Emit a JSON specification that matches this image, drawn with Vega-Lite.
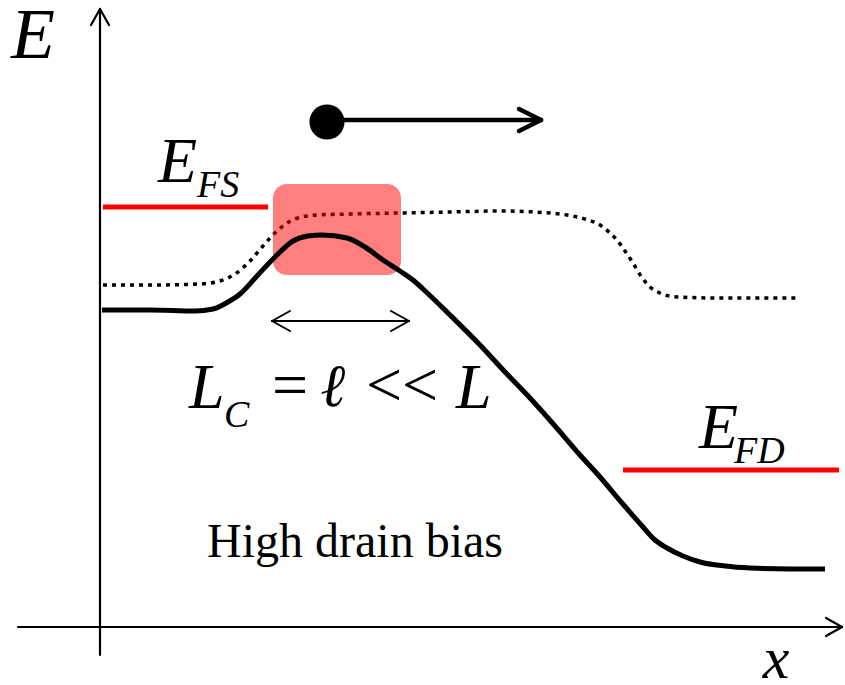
{
  "$schema": "https://vega.github.io/schema/vega-lite/v6.json",
  "width": 845,
  "height": 685,
  "padding": 0,
  "autosize": "none",
  "background": "white",
  "config": {"view": {"stroke": null}},
  "datasets": {
    "solid": [
      {"x":102,"y":310},{"x":150,"y":310},{"x":195,"y":311},{"x":213,"y":309},{"x":228,"y":302},{"x":240,"y":294},{"x":257,"y":276},{"x":275,"y":257},{"x":293,"y":241},{"x":308,"y":236},{"x":322,"y":235},{"x":347,"y":238},{"x":365,"y":247},{"x":383,"y":260},{"x":400,"y":271},{"x":413,"y":280},{"x":423,"y":289},{"x":450,"y":315},{"x":480,"y":345},{"x":505,"y":372},{"x":530,"y":398},{"x":555,"y":426},{"x":580,"y":455},{"x":600,"y":477},{"x":622,"y":503},{"x":643,"y":527},{"x":655,"y":540},{"x":667,"y":548},{"x":683,"y":556},{"x":700,"y":562},{"x":725,"y":566},{"x":750,"y":568},{"x":790,"y":569},{"x":825,"y":569}
    ],
    "dotted": [
      {"x":103,"y":285},{"x":150,"y":285},{"x":200,"y":284},{"x":220,"y":281},{"x":235,"y":274},{"x":250,"y":261},{"x":263,"y":246},{"x":277,"y":231},{"x":295,"y":219},{"x":317,"y":215},{"x":350,"y":214},{"x":400,"y":213},{"x":450,"y":212},{"x":500,"y":211},{"x":550,"y":213},{"x":567,"y":215},{"x":585,"y":219},{"x":600,"y":225},{"x":610,"y":233},{"x":617,"y":240},{"x":625,"y":251},{"x":633,"y":263},{"x":641,"y":276},{"x":650,"y":287},{"x":660,"y":293},{"x":677,"y":297},{"x":720,"y":298},{"x":797,"y":298}
    ],
    "segments": [
      {"kind":"axis","x":100,"y":655,"x2":100,"y2":9},
      {"kind":"axis","x":91,"y":25,"x2":100,"y2":9},
      {"kind":"axis","x":109,"y":25,"x2":100,"y2":9},
      {"kind":"axis","x":18,"y":627,"x2":842,"y2":627},
      {"kind":"axis","x":826,"y":618,"x2":842,"y2":627},
      {"kind":"axis","x":826,"y":636,"x2":842,"y2":627},
      {"kind":"ball","x":327,"y":120,"x2":541,"y2":120},
      {"kind":"ball","x":519,"y":109,"x2":541,"y2":120},
      {"kind":"ball","x":519,"y":131,"x2":541,"y2":120},
      {"kind":"dbl","x":272,"y":321,"x2":409,"y2":321},
      {"kind":"dbl","x":290,"y":311,"x2":272,"y2":321},
      {"kind":"dbl","x":290,"y":331,"x2":272,"y2":321},
      {"kind":"dbl","x":391,"y":311,"x2":409,"y2":321},
      {"kind":"dbl","x":391,"y":331,"x2":409,"y2":321},
      {"kind":"fermi","x":103,"y":207,"x2":268,"y2":207},
      {"kind":"fermi","x":623,"y":470,"x2":839,"y2":470}
    ]
  },
  "encoding": {
    "x": {"field":"x","type":"quantitative","scale":{"domain":[0,845],"nice":false,"zero":false},"axis":null},
    "y": {"field":"y","type":"quantitative","scale":{"domain":[685,0],"nice":false,"zero":false},"axis":null}
  },
  "layer": [
    {
      "data": {"name":"dotted"},
      "mark": {"type":"line","interpolate":"monotone","color":"black","strokeWidth":3.5,"strokeDash":[4,5]}
    },
    {
      "data": {"values":[{"x":273,"y":184,"x2":401,"y2":275}]},
      "mark": {"type":"rect","fill":"#ff0000","opacity":0.5,"cornerRadius":14},
      "encoding": {"x2":{"field":"x2"},"y2":{"field":"y2"}}
    },
    {
      "data": {"name":"solid"},
      "mark": {"type":"line","interpolate":"monotone","color":"black","strokeWidth":5}
    },
    {
      "data": {"name":"segments"},
      "transform": [{"filter":"datum.kind === 'axis'"}],
      "mark": {"type":"rule","color":"black","strokeWidth":2.2,"strokeCap":"round"},
      "encoding": {"x2":{"field":"x2"},"y2":{"field":"y2"}}
    },
    {
      "data": {"name":"segments"},
      "transform": [{"filter":"datum.kind === 'ball'"}],
      "mark": {"type":"rule","color":"black","strokeWidth":4.5,"strokeCap":"round"},
      "encoding": {"x2":{"field":"x2"},"y2":{"field":"y2"}}
    },
    {
      "data": {"name":"segments"},
      "transform": [{"filter":"datum.kind === 'dbl'"}],
      "mark": {"type":"rule","color":"black","strokeWidth":2,"strokeCap":"round"},
      "encoding": {"x2":{"field":"x2"},"y2":{"field":"y2"}}
    },
    {
      "data": {"name":"segments"},
      "transform": [{"filter":"datum.kind === 'fermi'"}],
      "mark": {"type":"rule","color":"#ff0000","strokeWidth":5},
      "encoding": {"x2":{"field":"x2"},"y2":{"field":"y2"}}
    },
    {
      "data": {"values":[{"x":327,"y":122}]},
      "mark": {"type":"point","shape":"circle","filled":true,"color":"black","opacity":1,"size":1230}
    },
    {
      "data": {"values":[{"x":158,"y":182,"t":"E"},{"x":699,"y":448,"t":"E"},{"x":189,"y":408,"t":"L"},{"x":456,"y":408,"t":"L"}]},
      "mark": {"type":"text","font":"Liberation Serif","fontStyle":"italic","fontSize":64,"align":"left","baseline":"alphabetic","color":"black"},
      "encoding": {"text":{"field":"t"}}
    },
    {
      "data": {"values":[{"x":11,"y":58,"t":"E"}]},
      "mark": {"type":"text","font":"Liberation Serif","fontStyle":"italic","fontSize":72,"align":"left","baseline":"alphabetic","color":"black"},
      "encoding": {"text":{"field":"t"}}
    },
    {
      "data": {"values":[{"x":197,"y":197,"t":"FS"},{"x":734,"y":463,"t":"FD"},{"x":224,"y":427,"t":"C"}]},
      "mark": {"type":"text","font":"Liberation Serif","fontStyle":"italic","fontSize":38,"align":"left","baseline":"alphabetic","color":"black"},
      "encoding": {"text":{"field":"t"}}
    },
    {
      "data": {"values":[{"x":290,"y":406,"t":"="},{"x":402,"y":406,"t":"<<"}]},
      "mark": {"type":"text","font":"Liberation Serif","fontSize":64,"align":"center","baseline":"alphabetic","color":"black"},
      "encoding": {"text":{"field":"t"}}
    },
    {
      "data": {"values":[{"x":334,"y":406,"t":"ℓ"}]},
      "mark": {"type":"text","font":"DejaVu Serif","fontStyle":"italic","fontWeight":"bold","fontSize":60,"align":"center","baseline":"alphabetic","color":"black"},
      "encoding": {"text":{"field":"t"}}
    },
    {
      "data": {"values":[{"x":776,"y":678,"t":"x"}]},
      "mark": {"type":"text","font":"Liberation Serif","fontStyle":"italic","fontSize":60,"align":"center","baseline":"alphabetic","color":"black"},
      "encoding": {"text":{"field":"t"}}
    },
    {
      "data": {"values":[{"x":355,"y":557,"t":"High drain bias"}]},
      "mark": {"type":"text","font":"Liberation Serif","fontSize":48,"align":"center","baseline":"alphabetic","color":"black"},
      "encoding": {"text":{"field":"t"}}
    }
  ]
}
